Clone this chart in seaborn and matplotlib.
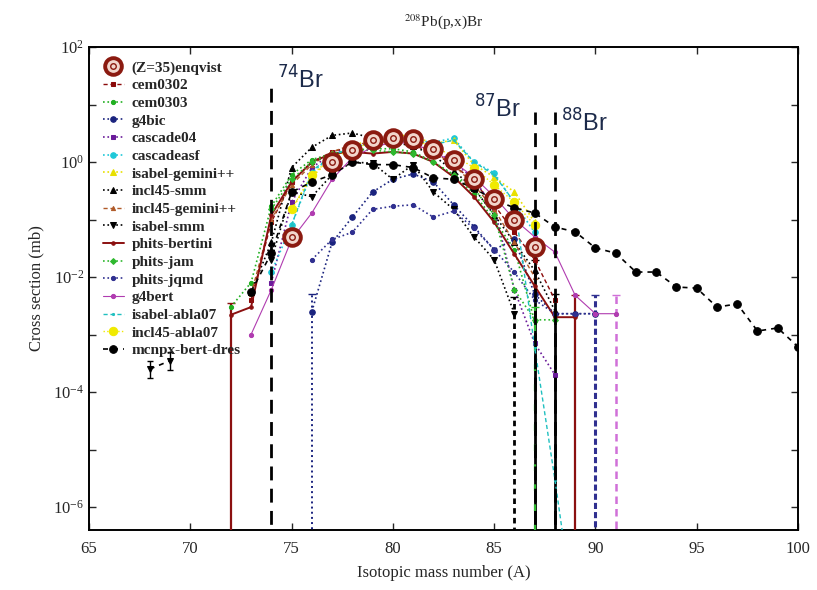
import numpy as np
import pandas as pd
import seaborn as sns
import matplotlib
matplotlib.use("Agg")
import matplotlib.pyplot as plt
from matplotlib.ticker import FixedLocator, NullFormatter, FuncFormatter
from matplotlib.legend_handler import HandlerTuple

# ---------------- data: cross sections (mb) vs isotope mass number ----------------
A_enqvist = [75, 77, 78, 79, 80, 81, 82, 83, 84, 85, 86, 87]
v_enqvist = [0.05, 1.0, 1.6, 2.4, 2.6, 2.5, 1.7, 1.1, 0.5, 0.23, 0.1, 0.033]

A_cem0302 = list(range(73, 89))
v_cem0302 = [0.004, 0.09, 0.45, 1.0, 1.5, 1.9, 2.1, 2.2, 2.0, 1.4, 0.9, 0.45, 0.18, 0.06, 0.02, 0.004]

A_cem0303 = list(range(72, 88))
v_cem0303 = [0.003, 0.008, 0.17, 0.6, 1.1, 1.4, 1.6, 1.7, 1.7, 1.5, 1.0, 0.6, 0.28, 0.1, 0.03, 0.0017]

A_g4bic = list(range(76, 91))
v_g4bic = [0.0025, 0.04, 0.11, 0.3, 0.5, 0.62, 0.45, 0.18, 0.075, 0.03, 0.045, 0.005, 0.0023, 0.0023, 0.0023]

A_cascade04 = list(range(74, 89))
v_cascade04 = [0.008, 0.2, 0.8, 1.4, 1.9, 2.3, 2.4, 2.2, 1.6, 1.0, 0.5, 0.16, 0.006, 0.0007, 0.0002]

A_cascadeasf = list(range(74, 88))
v_cascadeasf = [0.012, 0.08, 0.65, 1.3, 1.8, 2.1, 2.3, 2.4, 2.2, 2.6, 1.0, 0.65, 0.19, 0.06]

A_isabel_gemini = list(range(75, 88))
v_isabel_gemini = [0.15, 0.55, 1.2, 1.9, 2.5, 3.0, 2.8, 2.1, 2.4, 0.9, 0.55, 0.3, 0.09]

A_incl45_smm = list(range(73, 89))
v_incl45_smm = [0.0055, 0.04, 0.8, 1.8, 2.9, 3.2, 2.6, 2.2, 1.9, 1.3, 0.7, 0.35, 0.12, 0.04, 0.013, 0.0026]

A_incl45_gemini = list(range(73, 88))
v_incl45_gemini = [0.005, 0.1, 0.4, 0.9, 1.5, 2.0, 2.2, 2.3, 2.1, 1.5, 0.9, 0.4, 0.15, 0.04, 0.01]

A_isabel_smm = list(range(74, 87))
v_isabel_smm = [0.02, 0.3, 0.25, 0.6, 1.0, 0.95, 0.5, 0.9, 0.3, 0.15, 0.05, 0.02, 0.0023]
A_isabel_smm_low = [68, 69]
v_isabel_smm_low = [0.00025, 0.00035]

A_phits_bertini = list(range(72, 90))
v_phits_bertini = [0.0022, 0.003, 0.12, 0.45, 1.0, 1.4, 1.5, 1.4, 1.5, 1.4, 1.0, 0.55, 0.25, 0.09,
                   0.025, 0.007, 0.002, 0.002]

A_phits_jam = list(range(74, 89))
v_phits_jam = [0.15, 0.5, 1.0, 1.4, 1.6, 1.6, 1.5, 1.4, 1.0, 0.6, 0.35, 0.12, 0.006, 0.0018, 0.0018]

A_phits_jqmd = list(range(76, 91))
v_phits_jqmd = [0.02, 0.045, 0.06, 0.15, 0.17, 0.18, 0.11, 0.14, 0.07, 0.03, 0.012, 0.004, 0.0023, 0.0023, 0.0023]

A_g4bert = list(range(73, 92))
v_g4bert = [0.001, 0.006, 0.045, 0.13, 0.5, 1.2, 1.8, 2.2, 2.1, 1.5, 1.0, 0.55, 0.25, 0.1, 0.05,
            0.027, 0.0048, 0.0023, 0.0023]

A_isabel_abla = list(range(75, 90))
v_isabel_abla = [0.08, 0.7, 1.3, 1.8, 2.1, 2.3, 2.4, 2.0, 2.4, 1.0, 0.6, 0.2, 6e-4, 3e-6, 1e-8]

A_incl45_abla = list(range(75, 88))
v_incl45_abla = [0.15, 0.6, 1.2, 1.6, 2.3, 2.6, 2.5, 1.8, 1.3, 0.8, 0.4, 0.2, 0.08]

A_mcnpx = list(range(73, 101))
v_mcnpx = [0.0055, 0.026, 0.3, 0.45, 0.6, 1.0, 0.9, 0.9, 0.8, 0.53, 0.5, 0.35, 0.22, 0.16, 0.13,
           0.074, 0.061, 0.032, 0.026, 0.0122, 0.0122, 0.0067, 0.0064, 0.0030, 0.0034, 0.00115,
           0.0013, 0.00061]

# error bars reaching down to zero: (A, value, upper limit)
err_phits_bertini = [(72, 0.0022, 0.0035), (89, 0.002, 0.0048)]
err_g4bic = [(76, 0.0025, 0.005)]
err_isabel_smm = [(86, 0.0023, 0.0045)]
err_incl45_smm = [(87, 0.013, 0.02), (88, 0.0026, 0.005)]
err_phits_jam = [(87, 0.0018, 0.003)]
err_phits_jqmd = [(90, 0.0023, 0.0048)]
err_g4bert = [(91, 0.0023, 0.0048)]

# isotope reference lines: (A, top of line, label)
ref_A = [74, 87, 88]
ref_top = [19.4, 7.4, 7.4]
ref_label = ["74", "87", "88"]

# ---------------- styling ----------------
sns.set_theme(style="ticks")
plt.rcParams["font.family"] = ["Liberation Serif", "DejaVu Serif"]
plt.rcParams["axes.linewidth"] = 1.4

fig = plt.figure(figsize=(8.17, 5.90), dpi=100)
ax = fig.add_axes([89 / 817, 1 - 530 / 590, (798 - 89) / 817, (530 - 47) / 590])
ax.set_yscale("log", nonpositive="clip")

series = [
    # label, A, values, color, linestyle, marker, markersize, lw
    ("cem0302", A_cem0302, v_cem0302, "#8b0a0a", (0, (3, 2)), "s", 2.5, 1.0),
    ("cem0303", A_cem0303, v_cem0303, "#22b022", ":", "o", 3, 1.2),
    ("g4bic", A_g4bic, v_g4bic, "#1a237e", ":", "o", 4, 1.2),
    ("cascade04", A_cascade04, v_cascade04, "#6a1b9a", ":", "s", 3, 1.2),
    ("cascadeasf", A_cascadeasf, v_cascadeasf, "#1ec8d8", ":", "o", 4, 1.2),
    ("isabel-gemini++", A_isabel_gemini, v_isabel_gemini, "#e8e000", ":", "^", 4, 1.2),
    ("incl45-smm", A_incl45_smm, v_incl45_smm, "black", ":", "^", 4, 1.2),
    ("incl45-gemini++", A_incl45_gemini, v_incl45_gemini, "#b05a28", (0, (3, 2)), "^", 3, 1.0),
    ("isabel-smm", A_isabel_smm, v_isabel_smm, "black", ":", "v", 4, 1.2),
    ("phits-bertini", A_phits_bertini, v_phits_bertini, "#8b1010", "-", "o", 2.5, 1.4),
    ("phits-jam", A_phits_jam, v_phits_jam, "#2eb82e", ":", "D", 3, 1.2),
    ("phits-jqmd", A_phits_jqmd, v_phits_jqmd, "#303090", ":", "o", 3, 1.2),
    ("g4bert", A_g4bert, v_g4bert, "#b03cb0", "-", "o", 3, 0.8),
    ("isabel-abla07", A_isabel_abla, v_isabel_abla, "#20c0c0", (0, (3, 2)), ".", 3, 1.0),
    ("incl45-abla07", A_incl45_abla, v_incl45_abla, "#f0ea00", ":", "o", 6, 1.0),
    ("mcnpx-bert-dres", A_mcnpx, v_mcnpx, "black", (0, (3, 3)), "o", 5.5, 1.2),
]

handles = []
labels = []

# experimental points: ringed markers
enq = pd.DataFrame({"A": A_enqvist, "xs": v_enqvist})
sns.lineplot(data=enq, x="A", y="xs", ax=ax, linestyle="none", marker="o", markersize=12,
             markerfacecolor="#f2d6cc", markeredgecolor="#8b1a10", markeredgewidth=2.8,
             zorder=6, legend=False)
sns.lineplot(data=enq, x="A", y="xs", ax=ax, linestyle="none", marker="o", markersize=4,
             markerfacecolor="none", markeredgecolor="#8b1a10", markeredgewidth=1.0,
             zorder=7, legend=False)
h_outer = ax.lines[-2]
h_inner = ax.lines[-1]
handles.append((h_outer, h_inner))
labels.append("(Z=35)enqvist")

for lab, A, v, col, ls, mk, ms, lw in series:
    df = pd.DataFrame({"A": A, "xs": v})
    sns.lineplot(data=df, x="A", y="xs", ax=ax, color=col, linestyle=ls, linewidth=lw,
                 marker=mk, markersize=ms, markeredgecolor=col, markerfacecolor=col,
                 zorder=4, legend=False)
    handles.append(ax.lines[-1])
    labels.append(lab)

# low-mass isolated segment of isabel-smm
low = pd.DataFrame({"A": A_isabel_smm_low, "xs": v_isabel_smm_low})
sns.lineplot(data=low, x="A", y="xs", ax=ax, color="black", linestyle=(0, (3, 3)), linewidth=1.2,
             marker="v", markersize=5, markeredgecolor="black", legend=False)
ax.errorbar(A_isabel_smm_low, v_isabel_smm_low,
            yerr=[[v * 0.3 for v in v_isabel_smm_low], [v * 0.4 for v in v_isabel_smm_low]],
            fmt="none", ecolor="black", elinewidth=1.0, capsize=2.5)


def draw_errors(points, color, ls, lw):
    xs = [p[0] for p in points]
    ys = [p[1] for p in points]
    lo = [p[1] - 1e-12 for p in points]
    hi = [p[2] - p[1] for p in points]
    eb = ax.errorbar(xs, ys, yerr=[lo, hi], fmt="none", ecolor=color, elinewidth=lw,
                     capsize=3, zorder=3)
    for lc in eb[2]:
        lc.set_linestyle(ls)


draw_errors(err_phits_bertini, "#8b1010", "-", 1.6)
draw_errors(err_g4bic, "#1a237e", ":", 1.4)
draw_errors(err_isabel_smm, "black", (0, (2, 1.5)), 2.0)
draw_errors(err_incl45_smm, "black", "-", 2.0)
draw_errors(err_phits_jam, "#2eb82e", (0, (3, 6)), 1.6)
draw_errors(err_phits_jqmd, "#303090", (0, (2, 1)), 2.2)
draw_errors(err_g4bert, "#d070d8", (0, (3, 2)), 1.8)

# isotope reference lines and labels
ax.vlines(ref_A, 1e-12, ref_top, colors="black", linestyles=(0, (5, 3)), linewidth=2.0, zorder=5)
label_pos = [(74.3, 19.0), (84.0, 6.0), (88.3, 3.4)]
for (lx, ly), txt in zip(label_pos, ref_label):
    ax.text(lx, ly, r"$^{%s}$Br" % txt, fontsize=17, color="#1c2a4a",
            family=["Liberation Sans", "DejaVu Sans"], math_fontfamily="dejavusans",
            va="baseline", ha="left", zorder=8)

# axes
ax.set_xlim(65, 100)
ax.set_ylim(10 ** -6.4, 100)
ax.set_xticks(np.arange(65, 101, 5))
ax.yaxis.set_major_locator(FixedLocator([1e-6, 1e-4, 1e-2, 1, 1e2]))
ax.yaxis.set_minor_locator(FixedLocator([1e-5, 1e-3, 1e-1, 1e1]))
ax.yaxis.set_minor_formatter(NullFormatter())
ax.yaxis.set_major_formatter(FuncFormatter(lambda y, _: r"$\mathregular{10^{%d}}$" % int(round(np.log10(y)))))
for t in ax.get_yticklabels():
    t.set_math_fontfamily("stix")
ax.tick_params(which="both", direction="in", top=True, right=True, labelsize=12, length=5, width=1.0)
ax.tick_params(which="minor", length=5)
ax.tick_params(axis="x", pad=8)

ax.set_xlabel("Isotopic mass number (A)", fontsize=12, labelpad=6)
ax.set_ylabel("Cross section (mb)", fontsize=12, labelpad=6)
ax.set_title(r"$^{208}$Pb(p,x)Br", fontsize=11, pad=15, math_fontfamily="stix")

leg = ax.legend(handles, labels, loc="upper left", frameon=False, fontsize=11,
                handlelength=1.4, handletextpad=0.5, labelspacing=0.26,
                borderaxespad=0.5, bbox_to_anchor=(0.0, 1.0), numpoints=1,
                handler_map={tuple: HandlerTuple(ndivide=1, pad=0)})
for t in leg.get_texts():
    t.set_fontweight("bold")

for sp in ax.spines.values():
    sp.set_color("black")

fig.savefig("out.png", dpi=100)
